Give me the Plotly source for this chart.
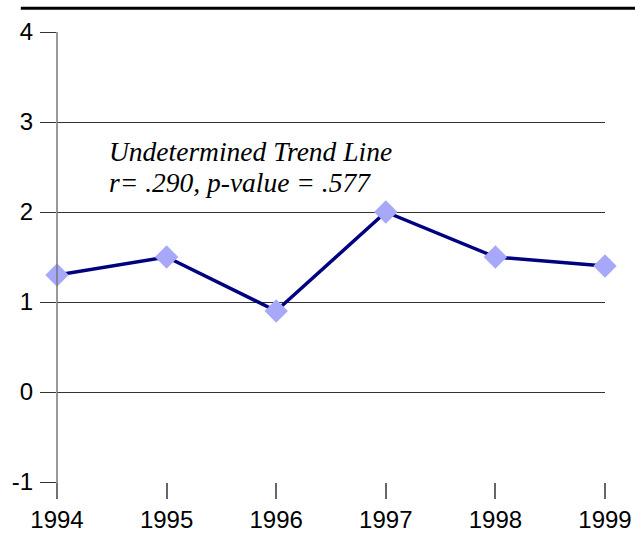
import plotly.graph_objects as go

years = [1994, 1995, 1996, 1997, 1998, 1999]
values = [1.3, 1.5, 0.9, 2.0, 1.5, 1.4]
y_ticks = [-1, 0, 1, 2, 3, 4]
y_tick_text = ["-1", "0", "1", "2", "3", "4"]
note_lines = ["Undetermined Trend Line", "r= .290, p-value = .577"]
note_y = [2.667, 2.333]

fig = go.Figure()
fig.add_trace(go.Scatter(
    x=years, y=values, mode="lines+markers",
    line=dict(color="#000080", width=3.5),
    marker=dict(symbol="diamond", size=18, color="#a8a8fa"),
    cliponaxis=False, showlegend=False,
))

fig.update_layout(
    width=635, height=535,
    margin=dict(l=57, r=30, t=32, b=53),
    paper_bgcolor="white", plot_bgcolor="white",
    font=dict(family="Liberation Sans, Arial, sans-serif", size=24, color="black"),
    xaxis=dict(
        range=[1994, 1999], tickvals=years, ticktext=[str(y) for y in years],
        showgrid=False, zeroline=False, showline=False, automargin=False,
        ticks="outside", ticklen=16, tickcolor="#666", tickwidth=1.5,
        tickfont=dict(size=24),
    ),
    yaxis=dict(
        range=[-1, 4], tickvals=y_ticks, ticktext=y_tick_text,
        showgrid=True, gridcolor="#333", gridwidth=1,
        zeroline=False, showline=False, automargin=False,
        ticks="outside", ticklen=16, tickcolor="#333", tickwidth=1,
        ticklabelstandoff=2,
        tickfont=dict(size=24),
    ),
    shapes=[
        dict(type="line", xref="paper", yref="paper", x0=-0.066, x1=1.06, y0=1.053, y1=1.053,
             line=dict(color="black", width=3)),
        dict(type="line", xref="paper", yref="paper", x0=0, x1=0, y0=-0.036, y1=1,
             line=dict(color="#777", width=1.5)),
    ],
    annotations=[
        dict(xref="paper", yref="y", x=0.0915, y=yy, xanchor="left", yanchor="middle",
             text="<i>" + t + "</i>", showarrow=False, align="left",
             font=dict(family="Liberation Serif, Times New Roman, serif", size=27.5, color="black"))
        for t, yy in zip(note_lines, note_y)
    ],
)

fig.write_html("out.html", config={"displayModeBar": False},
               post_script="document.body.style.margin='0';")
